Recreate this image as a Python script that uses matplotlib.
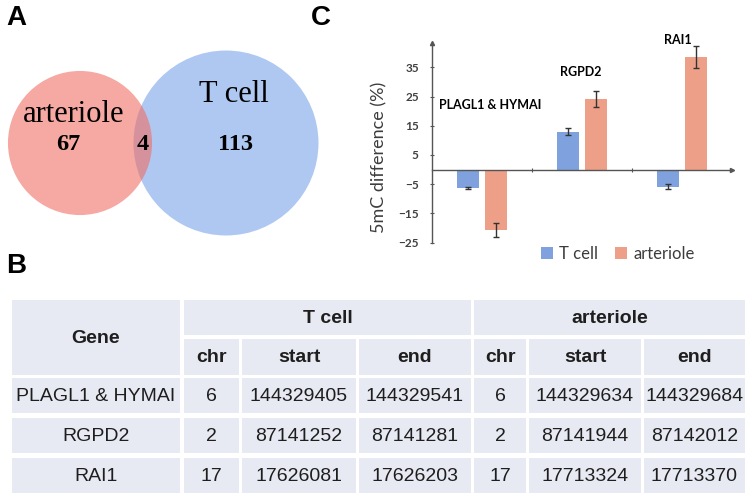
"""
Composite figure: Venn (A), coordinate table (B), 5mC difference bars (C).
"""
import matplotlib
matplotlib.use("Agg")
import matplotlib.pyplot as plt
from matplotlib.patches import Circle, Rectangle
import numpy as np

W, H = 750, 497

# Venn counts
venn_only_arteriole = 67
venn_shared = 4
venn_only_tcell = 113

# Bar chart (C)
genes = ["PLAGL1 & HYMAI", "RGPD2", "RAI1"]
tcell_diff = [-6.3, 13.0, -5.8]
tcell_err = [0.5, 1.2, 0.8]
arteriole_diff = [-20.7, 24.2, 38.4]
arteriole_err = [2.3, 2.8, 3.8]
y_ticks = [35, 25, 15, 5, -5, -15, -25]

# Table (B)
tcell_chr = ["6", "2", "17"]
tcell_start = ["144329405", "87141252", "17626081"]
tcell_end = ["144329541", "87141281", "17626203"]
art_chr = ["6", "2", "17"]
art_start = ["144329634", "87141944", "17713324"]
art_end = ["144329684", "87142012", "17713370"]
sub_headers = ["chr", "start", "end", "chr", "start", "end"]

BLUE = "#7fa2df"
ORANGE = "#eda087"
CELL = "#e8eaf3"
TXT = "#1e1e1e"

fig = plt.figure(figsize=(W / 100, H / 100), dpi=100)
fig.patch.set_facecolor("white")

# full-figure overlay in pixel coordinates for venn, table and panel letters
bg = fig.add_axes([0, 0, 1, 1])
bg.set_xlim(0, W)
bg.set_ylim(H, 0)
bg.axis("off")

# --- A: Venn, area proportional to set sizes
k = 8.55
r_art = k * np.sqrt(venn_only_arteriole + venn_shared)
r_tc = k * np.sqrt(venn_only_tcell + venn_shared)
bg.add_patch(Circle((226, 143), r_tc, facecolor="#6496e6", alpha=0.52, lw=0))
bg.add_patch(Circle((80, 143), r_art, facecolor="#f06e64", alpha=0.6, lw=0))
serif = "Liberation Serif"
bg.text(74, 115, "arteriole", fontsize=22, family=serif, ha="center", va="center")
bg.text(234, 94, "T cell", fontsize=22, family=serif, ha="center", va="center")
bg.text(68, 145, str(venn_only_arteriole), fontsize=17.5, family=serif,
        weight="bold", ha="center", va="center")
bg.text(143, 145, str(venn_shared), fontsize=17.5, family=serif,
        weight="bold", ha="center", va="center")
bg.text(235, 145, str(venn_only_tcell), fontsize=17.5, family=serif,
        weight="bold", ha="center", va="center")

for lab, (x, y) in zip("ABC", [(16, 18), (16, 266), (321, 18)]):
    bg.text(x, y, lab, fontsize=20, family="Liberation Sans", weight="bold",
            ha="center", va="center")

# --- B: table drawn as cells
col_edges = [(12, 180), (184, 239), (242, 356), (359, 471),
             (474, 526), (529, 641), (644, 745)]
row_edges = [(300, 335), (339, 375), (378, 413), (418, 453), (458, 493)]


def cell(c0, c1, r0, r1, text, bold=False):
    x0, x1 = col_edges[c0][0], col_edges[c1][1]
    y0, y1 = row_edges[r0][0], row_edges[r1][1]
    bg.add_patch(Rectangle((x0, y0), x1 - x0, y1 - y0, facecolor=CELL, lw=0))
    bg.text((x0 + x1) / 2, (y0 + y1) / 2 + 1, text, fontsize=14,
            family="Liberation Sans", weight="bold" if bold else "normal",
            color=TXT, ha="center", va="center")


cell(0, 0, 0, 1, "Gene", bold=True)
cell(1, 3, 0, 0, "T cell", bold=True)
cell(4, 6, 0, 0, "arteriole", bold=True)
for j, h in enumerate(sub_headers):
    cell(j + 1, j + 1, 1, 1, h, bold=True)
cols = [genes, tcell_chr, tcell_start, tcell_end, art_chr, art_start, art_end]
for i in range(len(genes)):
    for j, col in enumerate(cols):
        cell(j, j, i + 2, i + 2, col[i])

# --- C: bar chart
ax = fig.add_axes([432 / W, (H - 243) / H, 300 / W, 200 / H])
x = np.arange(len(genes))
bw = 0.22
ax.bar(x - 0.14, tcell_diff, bw, yerr=tcell_err, color=BLUE, label="T cell",
       error_kw=dict(ecolor="#333333", elinewidth=1, capsize=2, capthick=1))
ax.bar(x + 0.14, arteriole_diff, bw, yerr=arteriole_err, color=ORANGE,
       label="arteriole",
       error_kw=dict(ecolor="#333333", elinewidth=1, capsize=2, capthick=1))
ax.set_xlim(-0.5, 2.5)
ax.set_ylim(-25.1, 43.3)
ax.set_facecolor("none")

for s in ["top", "right"]:
    ax.spines[s].set_visible(False)
ax.spines["bottom"].set_position(("data", 0))
for s in ["left", "bottom"]:
    ax.spines[s].set_color("#555555")
    ax.spines[s].set_linewidth(1)
ax.plot(0, 1, "^", color="#555555", ms=3, transform=ax.transAxes, clip_on=False)
ax.plot(1, 0, ">", color="#555555", ms=3, transform=ax.get_yaxis_transform(),
        clip_on=False)

ax.set_xticks([0.5, 1.5])
ax.set_xticklabels([])
ax.tick_params(axis="x", length=3, direction="inout", color="#555555")
ax.set_yticks(y_ticks)
ax.tick_params(axis="y", length=3, direction="inout", color="#555555",
               labelsize=8.5, labelcolor="#404040", pad=8)
for t in ax.get_yticklabels():
    t.set_family("Lato")
    t.set_weight("bold")

ax.set_ylabel("5mC difference (%)", fontsize=13, family="Lato", color="#3c3c3c")
ax.yaxis.set_label_coords(-0.147, 0.43)

label_dx = [0.08, -0.01, -0.04]
label_y = [22.1, 33.4, 44.4]
for i, g in enumerate(genes):
    ax.text(x[i] + label_dx[i], label_y[i], g, fontsize=9, family="Lato",
            weight="bold", ha="center", va="center", clip_on=False)

ax.legend(loc="center", bbox_to_anchor=(0.62, -0.055), ncol=2, frameon=False,
          handlelength=0.7, handleheight=0.7, handletextpad=0.4,
          columnspacing=1.0, prop={"family": "Lato", "size": 12},
          labelcolor="#3c3c3c")

plt.savefig("out.png", dpi=100, facecolor="white")
plt.close()
